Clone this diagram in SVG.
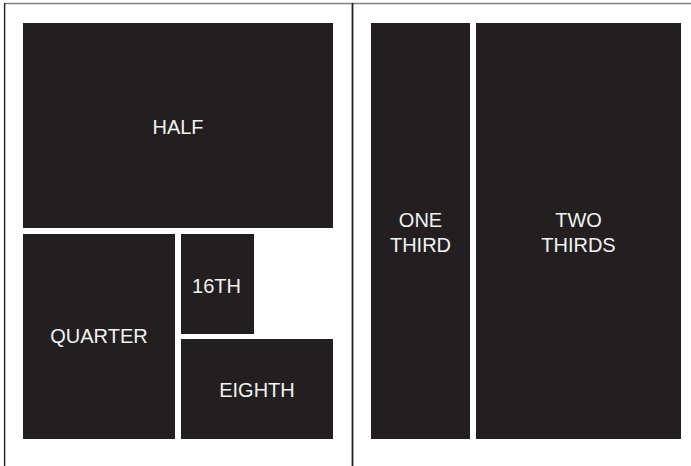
<svg xmlns="http://www.w3.org/2000/svg" width="691" height="466" viewBox="0 0 691 466">
<style>
.blk{fill:#231f20}
.lbl{font-family:"Liberation Sans",Arial,sans-serif;font-size:20px;fill:#f2f2f2;text-anchor:middle}
</style>
<rect width="691" height="466" fill="#ffffff"/>
<g id="frame">
<line x1="4" y1="3.5" x2="691" y2="3.5" stroke="#808080" stroke-width="1.5"/>
<line x1="4.6" y1="3" x2="4.6" y2="466" stroke="#231f20" stroke-width="1.4"/>
<line x1="352.5" y1="3" x2="352.5" y2="466" stroke="#231f20" stroke-width="1.8"/>
</g>
<g id="half"><rect class="blk" x="23" y="23" width="310" height="205"/><text class="lbl" x="178" y="134">HALF</text></g>
<g id="quarter"><rect class="blk" x="23" y="234" width="152" height="205"/><text class="lbl" x="99" y="342.5">QUARTER</text></g>
<g id="sixteenth"><rect class="blk" x="181" y="234" width="73" height="100"/><text class="lbl" x="216.5" y="293">16TH</text></g>
<g id="eighth"><rect class="blk" x="181" y="339" width="152" height="100"/><text class="lbl" x="257" y="396.5">EIGHTH</text></g>
<g id="one-third"><rect class="blk" x="371" y="23" width="99" height="416"/><text class="lbl" x="420.5" y="226.5">ONE</text><text class="lbl" x="420.5" y="251.5">THIRD</text></g>
<g id="two-thirds"><rect class="blk" x="476" y="23" width="205" height="416"/><text class="lbl" x="578.5" y="226.5">TWO</text><text class="lbl" x="578.5" y="251.5">THIRDS</text></g>
<g id="connectors"></g>
</svg>
